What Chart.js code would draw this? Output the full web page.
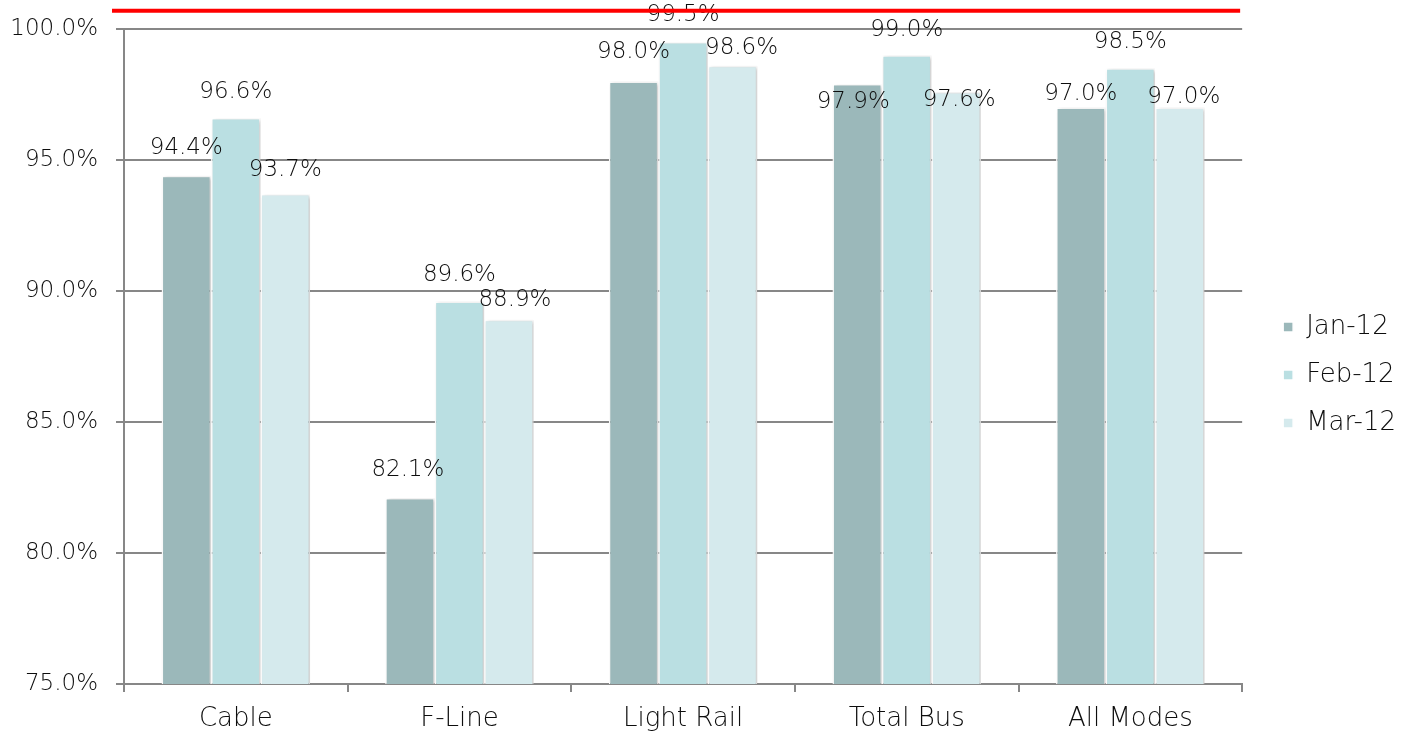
<!DOCTYPE html>
<html>
<head>
<meta charset="utf-8">
<script src="https://cdn.jsdelivr.net/npm/chart.js@4.4.1/dist/chart.umd.min.js"></script>
<style>
  html, body { margin: 0; padding: 0; background: #ffffff; }
  #wrap { width: 1401px; height: 731px; }
</style>
</head>
<body>
<div id="wrap"><canvas id="c" width="1401" height="731"></canvas></div>
<script>
// Modes and monthly on-time performance (%)
const modes = ['Cable', 'F-Line', 'Light Rail', 'Total Bus', 'All Modes'];
const jan12 = [94.4, 82.1, 98.0, 97.9, 97.0];
const feb12 = [96.6, 89.6, 99.5, 99.0, 98.5];
const mar12 = [93.7, 88.9, 98.6, 97.6, 97.0];
const monthNames = ['Jan-12', 'Feb-12', 'Mar-12'];
const yTicks = [75, 80, 85, 90, 95, 100];
const goalLevel = 100.7;

const FONT = "'DejaVu Sans', 'Lato', sans-serif";
const TEXT = '#0d0d0d';
const GRID = '#878787';

// Value labels printed above each bar, with small per-bar nudges
const valueLabels = {
  id: 'valueLabels',
  afterDatasetsDraw(chart) {
    const ctx = chart.ctx;
    ctx.save();
    ctx.font = "200 23px " + FONT;
    ctx.fillStyle = TEXT;
    ctx.textAlign = 'center';
    ctx.textBaseline = 'middle';
    chart.data.datasets.forEach((ds, i) => {
      const meta = chart.getDatasetMeta(i);
      meta.data.forEach((bar, j) => {
        const nudge = (ds.labelNudge && ds.labelNudge[j]) || [0, -26];
        ctx.fillText(ds.data[j].toFixed(1) + '%', bar.x + nudge[0], bar.y + nudge[1]);
      });
    });
    ctx.restore();
  }
};

// Soft drop shadow behind the bars
const barShadow = {
  id: 'barShadow',
  beforeDatasetsDraw(chart) {
    const ctx = chart.ctx;
    ctx.save();
    ctx.shadowColor = 'rgba(0,0,0,0.22)';
    ctx.shadowBlur = 4;
    ctx.shadowOffsetX = 2;
    ctx.shadowOffsetY = 1;
  },
  afterDatasetsDraw(chart) {
    chart.ctx.restore();
  }
};

// Red goal line across the top of the plot
const goalLine = {
  id: 'goalLine',
  afterDraw(chart) {
    const y = chart.scales.y.getPixelForValue(goalLevel);
    const a = chart.chartArea;
    const ctx = chart.ctx;
    ctx.save();
    ctx.strokeStyle = '#ff0000';
    ctx.lineWidth = 4;
    ctx.beginPath();
    ctx.moveTo(a.left - 12, y);
    ctx.lineTo(a.right - 2, y);
    ctx.stroke();
    ctx.restore();
  }
};

// Widens the legend box (leaving a wider gap beside the plot) and slides its items
const legendGap = {
  id: 'legendGap',
  beforeLayout(chart, args, opts) {
    const lg = chart.legend;
    if (!lg || lg._gapWrapped) return;
    const fit = lg.fit;
    lg.fit = function () { fit.call(this); this.width += opts.extra; };
    lg._gapWrapped = true;
  },
  afterLayout(chart, args, opts) {
    const lg = chart.legend;
    if (!lg) return;
    lg.left += opts.shift;
    lg.top -= opts.lift;
    lg.bottom -= opts.lift;
  }
};

const common = {
  borderColor: '#ffffff',
  borderWidth: 1.5,
  borderSkipped: 'bottom',
  barPercentage: 1.0,
  categoryPercentage: 0.664
};

new Chart(document.getElementById('c'), {
  type: 'bar',
  data: {
    labels: modes,
    datasets: [
      Object.assign({ label: monthNames[0], data: jan12, backgroundColor: '#9bb8ba',
        labelNudge: [[0, -28], [-2, -28], [0, -29], [-4, 18], [0, -14]] }, common),
      Object.assign({ label: monthNames[1], data: feb12, backgroundColor: '#badfe2',
        labelNudge: [[0, -26], [0, -26], [0, -27], [0, -25], [0, -26]] }, common),
      Object.assign({ label: monthNames[2], data: mar12, backgroundColor: '#d5eaed',
        labelNudge: [[0, -24], [6, -20], [9, -18], [3, 8], [4, -11]] }, common)
    ]
  },
  options: {
    responsive: false,
    animation: false,
    layout: { padding: { top: 29, right: 4, bottom: 0, left: 0 } },
    scales: {
      x: {
        offset: true,
        grid: { display: true, drawOnChartArea: false, drawTicks: true, tickLength: 8,
                offset: true, color: GRID, lineWidth: 2 },
        border: { display: true, color: GRID, width: 2 },
        ticks: { color: TEXT, font: { family: FONT, size: 26, weight: '200' }, padding: 12 },
        afterFit(scale) { scale.height = 47; }
      },
      y: {
        min: 75,
        max: 100,
        afterBuildTicks(scale) { scale.ticks = yTicks.map(v => ({ value: v })); },
        grid: { color: GRID, lineWidth: 2, drawTicks: true, tickLength: 8 },
        border: { display: true, color: GRID, width: 2 },
        ticks: {
          color: TEXT,
          font: { family: FONT, size: 23, weight: '200' },
          padding: 18,
          callback: v => v.toFixed(1) + '%'
        },
        afterFit(scale) {
          scale.width = 124;
          scale.paddingTop = 0;
          scale.paddingBottom = 0;
        }
      }
    },
    plugins: {
      legend: {
        position: 'right',
        labels: {
          color: TEXT,
          font: { family: FONT, size: 26, weight: '200' },
          boxWidth: 10,
          boxHeight: 10,
          padding: 22
        }
      },
      legendGap: { extra: 10, shift: 19, lift: 5 },
      tooltip: { enabled: false }
    }
  },
  plugins: [barShadow, valueLabels, goalLine, legendGap]
});
</script>
</body>
</html>
